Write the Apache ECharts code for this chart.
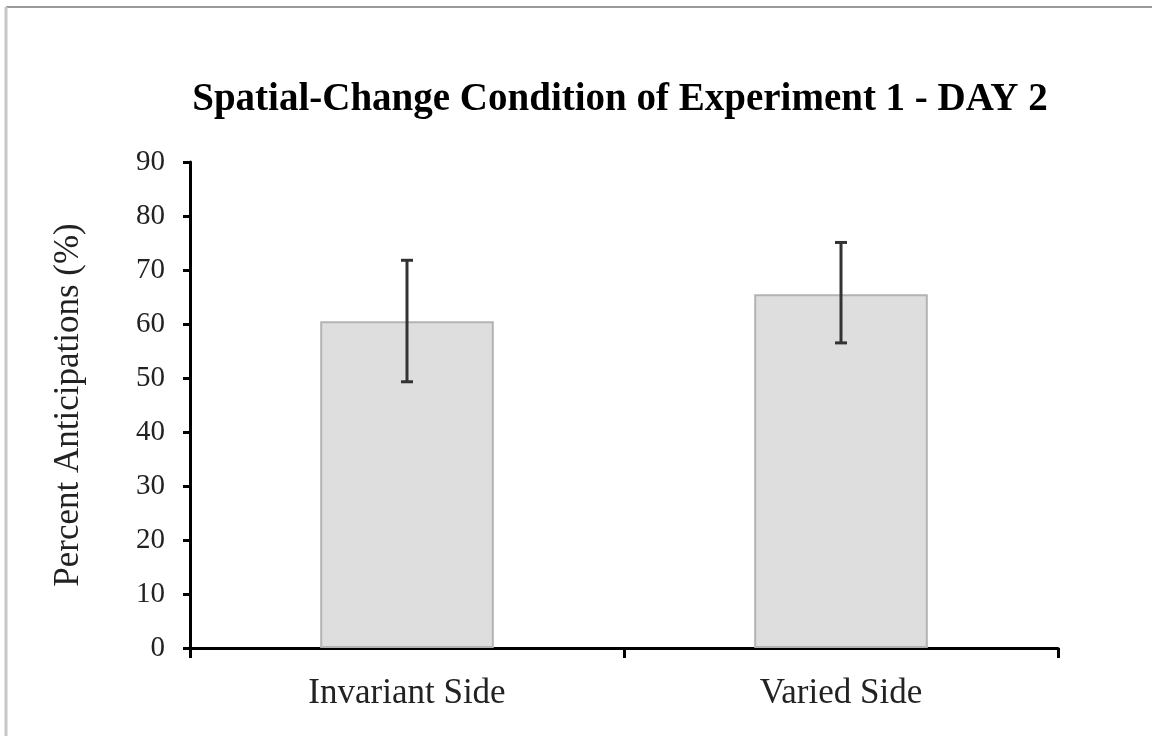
<!DOCTYPE html>
<html>
<head>
<meta charset="utf-8">
<script src="https://cdn.jsdelivr.net/npm/echarts@6/dist/echarts.min.js"></script>
<style>
html, body { margin: 0; padding: 0; background: #fff; }
#chart { width: 1152px; height: 736px; }
</style>
</head>
<body>
<div id="chart"></div>
<script>
// 数据：类别、均值、误差上下限
var categories = ['Invariant Side', 'Varied Side'];
var means = [60.5, 65.5];
var errLow = [49.3, 56.5];
var errHigh = [71.8, 75.1];
var yTicks = [0, 10, 20, 30, 40, 50, 60, 70, 80, 90];

var chart = echarts.init(document.getElementById('chart'));
var font = '"Liberation Serif", "DejaVu Serif", serif';

var errData = [];
for (var i = 0; i < categories.length; i++) {
    errData.push([i, errLow[i], errHigh[i]]);
}

var option = {
    backgroundColor: '#fff',
    animation: false,
    title: {
        text: 'Spatial-Change Condition of Experiment 1 - DAY 2',
        left: 615,
        textAlign: 'center',
        top: 75,
        textStyle: { fontFamily: font, fontSize: 39, fontWeight: 'bold', color: '#000' }
    },
    graphic: [
        { type: 'line', shape: { x1: 6, y1: 7, x2: 1152, y2: 7 }, style: { stroke: '#999', lineWidth: 2 } },
        { type: 'line', shape: { x1: 6, y1: 7, x2: 6, y2: 736 }, style: { stroke: '#c8c8c8', lineWidth: 3 } }
    ],
    grid: { left: 190, right: 94, top: 162, bottom: 88 },
    xAxis: {
        type: 'category',
        data: categories,
        axisLine: { lineStyle: { color: '#000', width: 3 } },
        axisTick: { show: true, length: 10, lineStyle: { color: '#000', width: 3 } },
        axisLabel: { fontFamily: font, fontSize: 35, color: '#222', margin: 28 }
    },
    yAxis: {
        type: 'value',
        min: 0,
        max: 90,
        interval: 10,
        name: 'Percent Anticipations (%)',
        nameLocation: 'middle',
        nameRotate: 90,
        nameGap: 104,
        nameTextStyle: { fontFamily: font, fontSize: 35, color: '#222' },
        axisLine: { show: true, lineStyle: { color: '#000', width: 3 } },
        axisTick: { show: true, length: 7, lineStyle: { color: '#000', width: 3 } },
        splitLine: { show: false },
        axisLabel: {
            fontFamily: font, fontSize: 29, color: '#222', margin: 25,
            formatter: function (v) { return yTicks.indexOf(v) >= 0 ? String(v) : ''; }
        }
    },
    series: [
        {
            type: 'bar',
            data: means,
            barWidth: '40%',
            itemStyle: { color: '#dedede', borderColor: '#b3b3b3', borderWidth: 2 }
        },
        {
            type: 'custom',
            data: errData,
            z: 10,
            renderItem: function (params, api) {
                var lo = api.coord([api.value(0), api.value(1)]);
                var hi = api.coord([api.value(0), api.value(2)]);
                var half = 6;
                var st = { stroke: '#333', lineWidth: 3 };
                return {
                    type: 'group',
                    children: [
                        { type: 'line', shape: { x1: hi[0], y1: hi[1], x2: lo[0], y2: lo[1] }, style: st },
                        { type: 'line', shape: { x1: hi[0] - half, y1: hi[1], x2: hi[0] + half, y2: hi[1] }, style: st },
                        { type: 'line', shape: { x1: lo[0] - half, y1: lo[1], x2: lo[0] + half, y2: lo[1] }, style: st }
                    ]
                };
            }
        }
    ]
};
chart.setOption(option);
</script>
</body>
</html>
